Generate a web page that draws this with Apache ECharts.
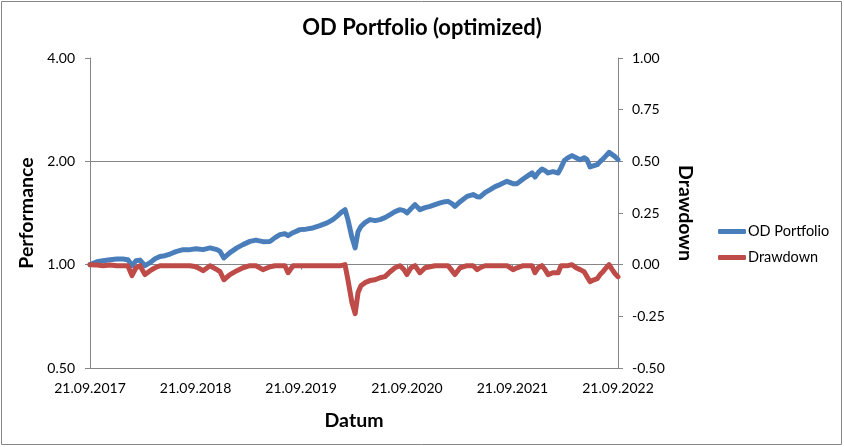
<!DOCTYPE html>
<html>
<head>
<meta charset="utf-8">
<script src="https://cdn.jsdelivr.net/npm/echarts@6/dist/echarts.min.js"></script>
<style>
html,body{margin:0;padding:0;background:#fff;}
#chart{width:844px;height:447px;}
</style>
</head>
<body>
<div id="chart"></div>
<script>
const dates = [
"2017-09-21","2017-10-15","2017-11-05","2017-11-29","2017-12-23","2018-01-13","2018-01-30","2018-02-13","2018-02-27","2018-03-13",
"2018-03-30","2018-04-17","2018-05-04","2018-05-21","2018-06-07","2018-06-25","2018-07-15","2018-08-09","2018-09-02","2018-09-23",
"2018-10-17","2018-11-10","2018-12-04","2018-12-15","2018-12-28","2019-01-18","2019-02-11","2019-03-04","2019-03-28","2019-04-18",
"2019-05-12","2019-06-06","2019-06-23","2019-07-10","2019-07-27","2019-08-07","2019-08-24","2019-09-17","2019-10-08","2019-11-01",
"2019-11-25","2019-12-20","2020-01-09","2020-01-23","2020-02-06","2020-02-20","2020-03-01","2020-03-15","2020-03-26","2020-04-05",
"2020-04-15","2020-04-29","2020-05-16","2020-06-03","2020-06-20","2020-07-07","2020-07-25","2020-08-11","2020-08-28","2020-09-11",
"2020-09-21","2020-10-05","2020-10-19","2020-11-05","2020-11-23","2020-12-10","2020-12-27","2021-01-14","2021-01-31","2021-02-10",
"2021-02-24","2021-03-06","2021-03-24","2021-04-17","2021-05-08","2021-05-22","2021-06-01","2021-06-18","2021-07-06","2021-07-23",
"2021-08-09","2021-09-02","2021-09-23","2021-10-07","2021-10-28","2021-11-14","2021-11-28","2021-12-08","2021-12-19","2022-01-01",
"2022-01-12","2022-01-22","2022-02-08","2022-02-26","2022-03-08","2022-03-19","2022-04-01","2022-04-15","2022-04-29","2022-05-13",
"2022-05-27","2022-06-06","2022-06-16","2022-06-30","2022-07-11","2022-07-21","2022-07-31","2022-08-11","2022-08-21","2022-09-01",
"2022-09-11","2022-09-21"
];
const performance = [
1.000,1.020,1.027,1.034,1.038,1.038,1.034,0.993,1.027,1.031,
0.993,1.014,1.041,1.057,1.062,1.074,1.091,1.106,1.106,1.113,
1.106,1.119,1.106,1.093,1.046,1.084,1.119,1.144,1.169,1.179,
1.167,1.169,1.199,1.223,1.231,1.215,1.239,1.265,1.269,1.279,
1.299,1.323,1.353,1.383,1.418,1.446,1.353,1.199,1.119,1.248,
1.291,1.326,1.353,1.344,1.353,1.371,1.399,1.427,1.446,1.437,
1.415,1.456,1.496,1.446,1.466,1.479,1.496,1.513,1.526,1.529,
1.506,1.479,1.526,1.581,1.600,1.578,1.575,1.621,1.654,1.688,
1.711,1.749,1.722,1.722,1.777,1.817,1.850,1.801,1.854,1.900,
1.879,1.850,1.866,1.850,1.917,2.009,2.050,2.078,2.050,2.023,
2.050,2.023,1.926,1.943,1.956,1.996,2.032,2.078,2.124,2.092,
2.064,2.023
];
const drawdown = [
0.000,-0.002,-0.005,-0.002,-0.005,-0.005,-0.005,-0.053,-0.015,-0.005,
-0.048,-0.029,-0.015,-0.005,-0.005,-0.005,-0.005,-0.005,-0.005,-0.010,
-0.029,-0.005,-0.024,-0.034,-0.073,-0.048,-0.029,-0.015,-0.005,-0.005,
-0.024,-0.010,-0.005,-0.005,-0.005,-0.039,-0.005,-0.005,-0.005,-0.005,
-0.005,-0.005,-0.005,-0.005,-0.005,0.000,-0.073,-0.184,-0.237,-0.135,
-0.102,-0.087,-0.077,-0.073,-0.063,-0.058,-0.034,-0.015,-0.005,-0.024,
-0.048,-0.015,-0.005,-0.039,-0.015,-0.010,-0.005,-0.005,-0.005,-0.005,
-0.029,-0.048,-0.015,-0.005,-0.005,-0.024,-0.015,-0.005,-0.005,-0.005,
-0.005,-0.005,-0.024,-0.015,-0.005,-0.005,-0.005,-0.039,-0.015,-0.005,
-0.024,-0.048,-0.039,-0.039,-0.005,-0.005,-0.005,0.000,-0.015,-0.024,
-0.034,-0.058,-0.082,-0.073,-0.068,-0.048,-0.034,-0.015,0.000,-0.024,
-0.044,-0.058
];
const tickYears = [2017,2018,2019,2020,2021,2022];

function pad(n){return (n<10?'0':'')+n;}
function fmtDate(v){const d=new Date(Math.round(v/86400000)*86400000);return pad(d.getUTCDate())+'.'+pad(d.getUTCMonth()+1)+'.'+d.getUTCFullYear();}
function ts(s){const p=s.split('-');return Date.UTC(+p[0],+p[1]-1,+p[2]);}
const tickTs = tickYears.map(y=>Date.UTC(y,8,21));

const perfData = dates.map((d,i)=>[ts(d),performance[i]]);
const ddData = dates.map((d,i)=>[ts(d),drawdown[i]]);

const FONT = 'Lato, "Open Sans", sans-serif';
const AX = '#868686';
const LBL = 14;
const NAME = 19.5;
const chart = echarts.init(document.getElementById('chart'), null, {renderer:'canvas'});
chart.setOption({
  animation:false,
  backgroundColor:'#fff',
  textStyle:{fontFamily:FONT},
  title:{text:'OD Portfolio (optimized)',left:'center',top:12,
    textStyle:{fontFamily:FONT,fontSize:22,fontWeight:'bold',color:'#000'}},
  graphic:[{type:'rect',shape:{x:1.5,y:1.5,width:840,height:443},
    style:{fill:'none',stroke:AX,lineWidth:1},silent:true}],
  legend:{orient:'vertical',left:713,top:219,itemWidth:28,itemHeight:5,itemGap:11,icon:'roundRect',
    textStyle:{fontFamily:FONT,fontSize:14.5,color:'#000',padding:[0,0,0,-3]},
    data:['OD Portfolio','Drawdown']},
  grid:{left:90,right:226,top:58,bottom:79,containLabel:false},
  xAxis:{type:'value',min:tickTs[0],max:tickTs[5],
    name:'Datum',nameLocation:'middle',nameGap:43,
    nameTextStyle:{fontFamily:FONT,fontSize:NAME,fontWeight:'bold',color:'#000'},
    axisLine:{lineStyle:{color:AX,width:1}},
    axisTick:{show:true,customValues:tickTs,length:5,lineStyle:{color:AX}},
    axisLabel:{customValues:tickTs,formatter:fmtDate,color:'#000',fontSize:LBL,fontFamily:FONT,margin:13},
    splitLine:{show:false}},
  yAxis:[{type:'log',logBase:2,min:0.5,max:4,interval:1,position:'left',
    name:'Performance',nameLocation:'middle',nameGap:53,nameRotate:90,
    nameTextStyle:{fontFamily:FONT,fontSize:NAME,fontWeight:'bold',color:'#000'},
    axisLine:{show:true,lineStyle:{color:AX,width:1}},
    axisTick:{show:true,length:5,lineStyle:{color:AX}},
    axisLabel:{formatter:v=>(+v).toFixed(2),color:'#000',fontSize:LBL,fontFamily:FONT,margin:15},
    splitLine:{show:true,lineStyle:{color:[AX,AX,AX,'rgba(0,0,0,0)'],width:1}}},
   {type:'value',min:-0.5,max:1,interval:0.25,position:'right',
    name:'Drawdown',nameLocation:'middle',nameGap:55,nameRotate:-90,
    nameTextStyle:{fontFamily:FONT,fontSize:NAME,fontWeight:'bold',color:'#000'},
    axisLine:{show:true,lineStyle:{color:AX,width:1}},
    axisTick:{show:true,length:5,lineStyle:{color:AX}},
    axisLabel:{formatter:v=>(+v).toFixed(2),color:'#000',fontSize:LBL,fontFamily:FONT,margin:14},
    splitLine:{show:false}}],
  series:[
    {name:'OD Portfolio',type:'line',yAxisIndex:0,data:perfData,showSymbol:false,symbol:'none',
      lineStyle:{color:'#4A7EBB',width:5,join:'round',cap:'round'},itemStyle:{color:'#4A7EBB'}},
    {name:'Drawdown',type:'line',yAxisIndex:1,data:ddData,showSymbol:false,symbol:'none',
      lineStyle:{color:'#BE4B48',width:5,join:'round',cap:'round'},itemStyle:{color:'#BE4B48'}}
  ]
});
</script>
</body>
</html>
